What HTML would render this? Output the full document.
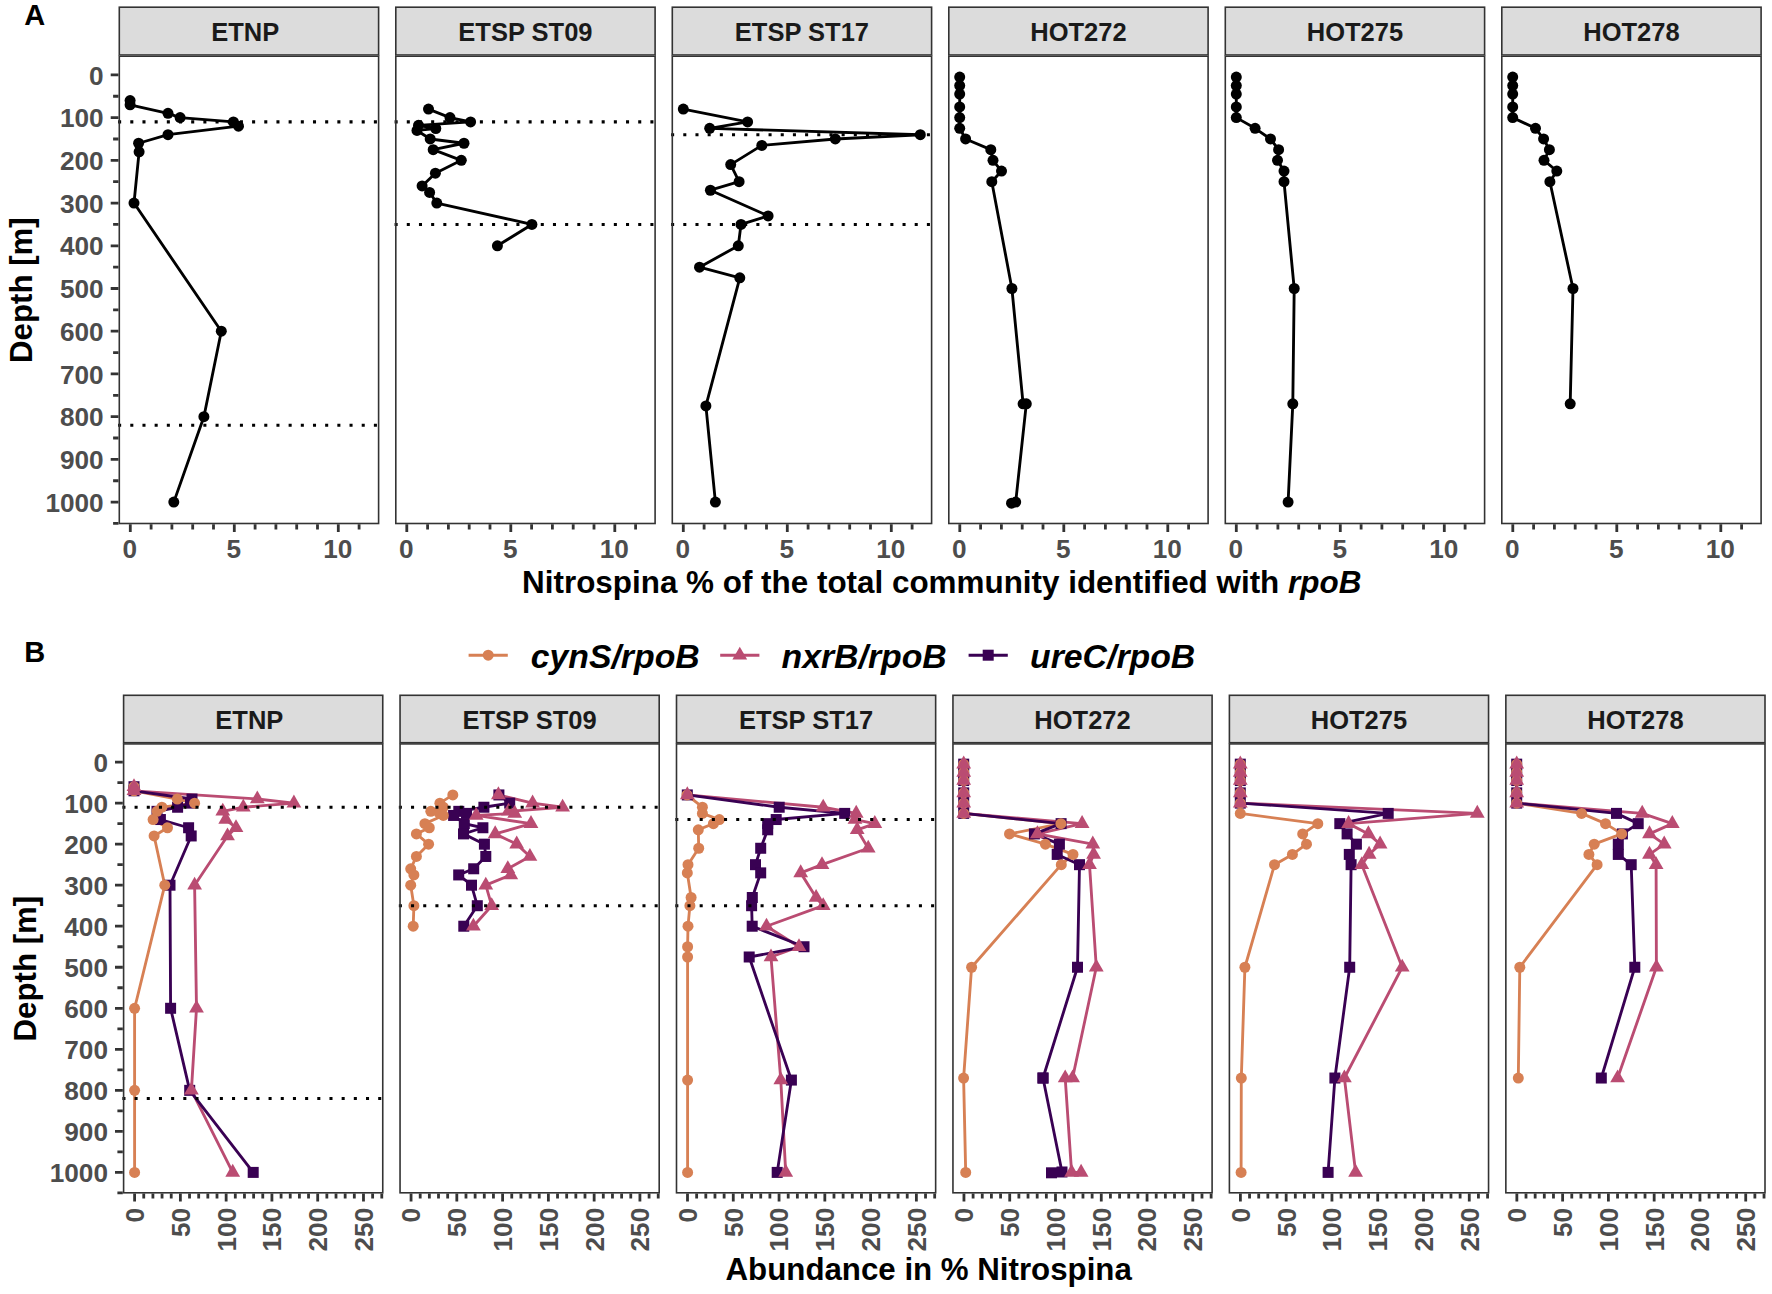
<!DOCTYPE html>
<html lang="en">
<head>
<meta charset="utf-8">
<title>Nitrospina depth profiles</title>
<style>
html,body{margin:0;padding:0;background:#ffffff;}
body{width:1772px;height:1294px;overflow:hidden;}
svg{display:block;}
</style>
</head>
<body>
<svg width="1772" height="1294" viewBox="0 0 1772 1294" font-family='"Liberation Sans", sans-serif' font-weight="bold">
<rect x="0" y="0" width="1772" height="1294" fill="#ffffff"/>
<rect x="119.3" y="7.2" width="259.3" height="47.8" fill="#DCDCDC" stroke="#333333" stroke-width="1.6"/>
<text x="245.15" y="40.8" font-size="25.5" text-anchor="middle" fill="#1A1A1A">ETNP</text>
<rect x="119.3" y="55.6" width="259.3" height="467.9" fill="#fff"/>
<line x1="118.1" y1="121.89" x2="378.6" y2="121.89" stroke="#000" stroke-width="3.05" stroke-dasharray="3.05 9.13"/>
<line x1="118.1" y1="425.2" x2="378.6" y2="425.2" stroke="#000" stroke-width="3.05" stroke-dasharray="3.05 9.13"/>
<polyline points="130.1,100.53 130.1,104.8 168,113.35 180.1,117.62 233.4,121.89 238.5,126.16 168,134.71 138.6,143.25 139.1,151.8 134,203.06 221.3,331.22 203.9,416.66 173.8,502.1" fill="none" stroke="#000" stroke-width="2.85" stroke-linejoin="round" stroke-linecap="butt"/>
<g><circle cx="130.1" cy="100.53" r="5.5" fill="#000"/><circle cx="130.1" cy="104.8" r="5.5" fill="#000"/><circle cx="168" cy="113.35" r="5.5" fill="#000"/><circle cx="180.1" cy="117.62" r="5.5" fill="#000"/><circle cx="233.4" cy="121.89" r="5.5" fill="#000"/><circle cx="238.5" cy="126.16" r="5.5" fill="#000"/><circle cx="168" cy="134.71" r="5.5" fill="#000"/><circle cx="138.6" cy="143.25" r="5.5" fill="#000"/><circle cx="139.1" cy="151.8" r="5.5" fill="#000"/><circle cx="134" cy="203.06" r="5.5" fill="#000"/><circle cx="221.3" cy="331.22" r="5.5" fill="#000"/><circle cx="203.9" cy="416.66" r="5.5" fill="#000"/><circle cx="173.8" cy="502.1" r="5.5" fill="#000"/></g>
<rect x="119.3" y="56.2" width="259.3" height="467.3" fill="none" stroke="#333333" stroke-width="1.6"/>
<text x="129.7" y="557.6" font-size="26.2" text-anchor="middle" fill="#4D4D4D">0</text>
<text x="233.7" y="557.6" font-size="26.2" text-anchor="middle" fill="#4D4D4D">5</text>
<text x="337.7" y="557.6" font-size="26.2" text-anchor="middle" fill="#4D4D4D">10</text>
<path d="M130.3 524.3V531.9M151.1 524.3V529.5M171.9 524.3V529.5M192.7 524.3V529.5M213.5 524.3V529.5M234.3 524.3V531.9M255.1 524.3V529.5M275.9 524.3V529.5M296.7 524.3V529.5M317.5 524.3V529.5M338.3 524.3V531.9M359.1 524.3V529.5" stroke="#333333" stroke-width="2.8" fill="none"/>
<rect x="395.8" y="7.2" width="259.3" height="47.8" fill="#DCDCDC" stroke="#333333" stroke-width="1.6"/>
<text x="525.45" y="40.8" font-size="25.5" text-anchor="middle" fill="#1A1A1A">ETSP ST09</text>
<rect x="395.8" y="55.6" width="259.3" height="467.9" fill="#fff"/>
<line x1="394.6" y1="121.89" x2="655.1" y2="121.89" stroke="#000" stroke-width="3.05" stroke-dasharray="3.05 9.13"/>
<line x1="394.6" y1="224.42" x2="655.1" y2="224.42" stroke="#000" stroke-width="3.05" stroke-dasharray="3.05 9.13"/>
<polyline points="428.5,109.08 450,117.62 470.6,121.89 418.5,125.31 435.8,128.51 417,130.44 430.2,138.98 464,143.25 433.2,149.66 461.3,160.34 435.4,173.16 422.1,185.97 429.6,192.38 436.8,203.06 531.9,224.42 497.4,245.78" fill="none" stroke="#000" stroke-width="2.85" stroke-linejoin="round" stroke-linecap="butt"/>
<g><circle cx="428.5" cy="109.08" r="5.5" fill="#000"/><circle cx="450" cy="117.62" r="5.5" fill="#000"/><circle cx="470.6" cy="121.89" r="5.5" fill="#000"/><circle cx="418.5" cy="125.31" r="5.5" fill="#000"/><circle cx="435.8" cy="128.51" r="5.5" fill="#000"/><circle cx="417" cy="130.44" r="5.5" fill="#000"/><circle cx="430.2" cy="138.98" r="5.5" fill="#000"/><circle cx="464" cy="143.25" r="5.5" fill="#000"/><circle cx="433.2" cy="149.66" r="5.5" fill="#000"/><circle cx="461.3" cy="160.34" r="5.5" fill="#000"/><circle cx="435.4" cy="173.16" r="5.5" fill="#000"/><circle cx="422.1" cy="185.97" r="5.5" fill="#000"/><circle cx="429.6" cy="192.38" r="5.5" fill="#000"/><circle cx="436.8" cy="203.06" r="5.5" fill="#000"/><circle cx="531.9" cy="224.42" r="5.5" fill="#000"/><circle cx="497.4" cy="245.78" r="5.5" fill="#000"/></g>
<rect x="395.8" y="56.2" width="259.3" height="467.3" fill="none" stroke="#333333" stroke-width="1.6"/>
<text x="406.2" y="557.6" font-size="26.2" text-anchor="middle" fill="#4D4D4D">0</text>
<text x="510.2" y="557.6" font-size="26.2" text-anchor="middle" fill="#4D4D4D">5</text>
<text x="614.2" y="557.6" font-size="26.2" text-anchor="middle" fill="#4D4D4D">10</text>
<path d="M406.8 524.3V531.9M427.6 524.3V529.5M448.4 524.3V529.5M469.2 524.3V529.5M490 524.3V529.5M510.8 524.3V531.9M531.6 524.3V529.5M552.4 524.3V529.5M573.2 524.3V529.5M594 524.3V529.5M614.8 524.3V531.9M635.6 524.3V529.5" stroke="#333333" stroke-width="2.8" fill="none"/>
<rect x="672.3" y="7.2" width="259.3" height="47.8" fill="#DCDCDC" stroke="#333333" stroke-width="1.6"/>
<text x="801.95" y="40.8" font-size="25.5" text-anchor="middle" fill="#1A1A1A">ETSP ST17</text>
<rect x="672.3" y="55.6" width="259.3" height="467.9" fill="#fff"/>
<line x1="671.1" y1="134.71" x2="931.6" y2="134.71" stroke="#000" stroke-width="3.05" stroke-dasharray="3.05 9.13"/>
<line x1="671.1" y1="224.42" x2="931.6" y2="224.42" stroke="#000" stroke-width="3.05" stroke-dasharray="3.05 9.13"/>
<polyline points="683.3,109.08 747.6,121.89 709.7,128.3 920.3,134.71 835.3,138.98 761.8,145.39 730.7,164.61 739.1,181.7 710.4,190.24 768.1,215.88 741,224.42 738.3,245.78 699.5,267.14 739.8,277.82 705.9,405.98 715.4,502.1" fill="none" stroke="#000" stroke-width="2.85" stroke-linejoin="round" stroke-linecap="butt"/>
<g><circle cx="683.3" cy="109.08" r="5.5" fill="#000"/><circle cx="747.6" cy="121.89" r="5.5" fill="#000"/><circle cx="709.7" cy="128.3" r="5.5" fill="#000"/><circle cx="920.3" cy="134.71" r="5.5" fill="#000"/><circle cx="835.3" cy="138.98" r="5.5" fill="#000"/><circle cx="761.8" cy="145.39" r="5.5" fill="#000"/><circle cx="730.7" cy="164.61" r="5.5" fill="#000"/><circle cx="739.1" cy="181.7" r="5.5" fill="#000"/><circle cx="710.4" cy="190.24" r="5.5" fill="#000"/><circle cx="768.1" cy="215.88" r="5.5" fill="#000"/><circle cx="741" cy="224.42" r="5.5" fill="#000"/><circle cx="738.3" cy="245.78" r="5.5" fill="#000"/><circle cx="699.5" cy="267.14" r="5.5" fill="#000"/><circle cx="739.8" cy="277.82" r="5.5" fill="#000"/><circle cx="705.9" cy="405.98" r="5.5" fill="#000"/><circle cx="715.4" cy="502.1" r="5.5" fill="#000"/></g>
<rect x="672.3" y="56.2" width="259.3" height="467.3" fill="none" stroke="#333333" stroke-width="1.6"/>
<text x="682.7" y="557.6" font-size="26.2" text-anchor="middle" fill="#4D4D4D">0</text>
<text x="786.7" y="557.6" font-size="26.2" text-anchor="middle" fill="#4D4D4D">5</text>
<text x="890.7" y="557.6" font-size="26.2" text-anchor="middle" fill="#4D4D4D">10</text>
<path d="M683.3 524.3V531.9M704.1 524.3V529.5M724.9 524.3V529.5M745.7 524.3V529.5M766.5 524.3V529.5M787.3 524.3V531.9M808.1 524.3V529.5M828.9 524.3V529.5M849.7 524.3V529.5M870.5 524.3V529.5M891.3 524.3V531.9M912.1 524.3V529.5" stroke="#333333" stroke-width="2.8" fill="none"/>
<rect x="948.8" y="7.2" width="259.3" height="47.8" fill="#DCDCDC" stroke="#333333" stroke-width="1.6"/>
<text x="1078.45" y="40.8" font-size="25.5" text-anchor="middle" fill="#1A1A1A">HOT272</text>
<rect x="948.8" y="55.6" width="259.3" height="467.9" fill="#fff"/>
<polyline points="959.7,77.04 959.7,85.58 959.7,94.12 959.7,106.94 959.7,117.62 959.7,128.3 965.6,138.98 990.8,149.66 993,160.34 1001.5,171.02 991.8,181.7 1011.9,288.5 1023.1,403.84 1026.3,403.84 1015.7,502.1 1011.5,503.17" fill="none" stroke="#000" stroke-width="2.85" stroke-linejoin="round" stroke-linecap="butt"/>
<g><circle cx="959.7" cy="77.04" r="5.5" fill="#000"/><circle cx="959.7" cy="85.58" r="5.5" fill="#000"/><circle cx="959.7" cy="94.12" r="5.5" fill="#000"/><circle cx="959.7" cy="106.94" r="5.5" fill="#000"/><circle cx="959.7" cy="117.62" r="5.5" fill="#000"/><circle cx="959.7" cy="128.3" r="5.5" fill="#000"/><circle cx="965.6" cy="138.98" r="5.5" fill="#000"/><circle cx="990.8" cy="149.66" r="5.5" fill="#000"/><circle cx="993" cy="160.34" r="5.5" fill="#000"/><circle cx="1001.5" cy="171.02" r="5.5" fill="#000"/><circle cx="991.8" cy="181.7" r="5.5" fill="#000"/><circle cx="1011.9" cy="288.5" r="5.5" fill="#000"/><circle cx="1023.1" cy="403.84" r="5.5" fill="#000"/><circle cx="1026.3" cy="403.84" r="5.5" fill="#000"/><circle cx="1015.7" cy="502.1" r="5.5" fill="#000"/><circle cx="1011.5" cy="503.17" r="5.5" fill="#000"/></g>
<rect x="948.8" y="56.2" width="259.3" height="467.3" fill="none" stroke="#333333" stroke-width="1.6"/>
<text x="959.2" y="557.6" font-size="26.2" text-anchor="middle" fill="#4D4D4D">0</text>
<text x="1063.2" y="557.6" font-size="26.2" text-anchor="middle" fill="#4D4D4D">5</text>
<text x="1167.2" y="557.6" font-size="26.2" text-anchor="middle" fill="#4D4D4D">10</text>
<path d="M959.8 524.3V531.9M980.6 524.3V529.5M1001.4 524.3V529.5M1022.2 524.3V529.5M1043 524.3V529.5M1063.8 524.3V531.9M1084.6 524.3V529.5M1105.4 524.3V529.5M1126.2 524.3V529.5M1147 524.3V529.5M1167.8 524.3V531.9M1188.6 524.3V529.5" stroke="#333333" stroke-width="2.8" fill="none"/>
<rect x="1225.3" y="7.2" width="259.3" height="47.8" fill="#DCDCDC" stroke="#333333" stroke-width="1.6"/>
<text x="1354.95" y="40.8" font-size="25.5" text-anchor="middle" fill="#1A1A1A">HOT275</text>
<rect x="1225.3" y="55.6" width="259.3" height="467.9" fill="#fff"/>
<polyline points="1236.3,77.04 1236.3,85.58 1236.3,94.12 1236.3,106.94 1236.3,117.62 1255.1,128.3 1270.5,138.98 1278.6,149.66 1277.5,160.34 1284,171.02 1284,181.7 1294.2,288.5 1292.8,403.84 1288.1,502.1" fill="none" stroke="#000" stroke-width="2.85" stroke-linejoin="round" stroke-linecap="butt"/>
<g><circle cx="1236.3" cy="77.04" r="5.5" fill="#000"/><circle cx="1236.3" cy="85.58" r="5.5" fill="#000"/><circle cx="1236.3" cy="94.12" r="5.5" fill="#000"/><circle cx="1236.3" cy="106.94" r="5.5" fill="#000"/><circle cx="1236.3" cy="117.62" r="5.5" fill="#000"/><circle cx="1255.1" cy="128.3" r="5.5" fill="#000"/><circle cx="1270.5" cy="138.98" r="5.5" fill="#000"/><circle cx="1278.6" cy="149.66" r="5.5" fill="#000"/><circle cx="1277.5" cy="160.34" r="5.5" fill="#000"/><circle cx="1284" cy="171.02" r="5.5" fill="#000"/><circle cx="1284" cy="181.7" r="5.5" fill="#000"/><circle cx="1294.2" cy="288.5" r="5.5" fill="#000"/><circle cx="1292.8" cy="403.84" r="5.5" fill="#000"/><circle cx="1288.1" cy="502.1" r="5.5" fill="#000"/></g>
<rect x="1225.3" y="56.2" width="259.3" height="467.3" fill="none" stroke="#333333" stroke-width="1.6"/>
<text x="1235.7" y="557.6" font-size="26.2" text-anchor="middle" fill="#4D4D4D">0</text>
<text x="1339.7" y="557.6" font-size="26.2" text-anchor="middle" fill="#4D4D4D">5</text>
<text x="1443.7" y="557.6" font-size="26.2" text-anchor="middle" fill="#4D4D4D">10</text>
<path d="M1236.3 524.3V531.9M1257.1 524.3V529.5M1277.9 524.3V529.5M1298.7 524.3V529.5M1319.5 524.3V529.5M1340.3 524.3V531.9M1361.1 524.3V529.5M1381.9 524.3V529.5M1402.7 524.3V529.5M1423.5 524.3V529.5M1444.3 524.3V531.9M1465.1 524.3V529.5" stroke="#333333" stroke-width="2.8" fill="none"/>
<rect x="1501.8" y="7.2" width="259.3" height="47.8" fill="#DCDCDC" stroke="#333333" stroke-width="1.6"/>
<text x="1631.45" y="40.8" font-size="25.5" text-anchor="middle" fill="#1A1A1A">HOT278</text>
<rect x="1501.8" y="55.6" width="259.3" height="467.9" fill="#fff"/>
<polyline points="1512.7,77.04 1512.7,85.58 1512.7,94.12 1512.7,106.94 1512.7,117.62 1535.5,128.3 1543.6,138.98 1549.4,149.66 1544,160.34 1556.8,171.02 1549.9,181.7 1573,288.5 1570.2,403.84" fill="none" stroke="#000" stroke-width="2.85" stroke-linejoin="round" stroke-linecap="butt"/>
<g><circle cx="1512.7" cy="77.04" r="5.5" fill="#000"/><circle cx="1512.7" cy="85.58" r="5.5" fill="#000"/><circle cx="1512.7" cy="94.12" r="5.5" fill="#000"/><circle cx="1512.7" cy="106.94" r="5.5" fill="#000"/><circle cx="1512.7" cy="117.62" r="5.5" fill="#000"/><circle cx="1535.5" cy="128.3" r="5.5" fill="#000"/><circle cx="1543.6" cy="138.98" r="5.5" fill="#000"/><circle cx="1549.4" cy="149.66" r="5.5" fill="#000"/><circle cx="1544" cy="160.34" r="5.5" fill="#000"/><circle cx="1556.8" cy="171.02" r="5.5" fill="#000"/><circle cx="1549.9" cy="181.7" r="5.5" fill="#000"/><circle cx="1573" cy="288.5" r="5.5" fill="#000"/><circle cx="1570.2" cy="403.84" r="5.5" fill="#000"/></g>
<rect x="1501.8" y="56.2" width="259.3" height="467.3" fill="none" stroke="#333333" stroke-width="1.6"/>
<text x="1512.2" y="557.6" font-size="26.2" text-anchor="middle" fill="#4D4D4D">0</text>
<text x="1616.2" y="557.6" font-size="26.2" text-anchor="middle" fill="#4D4D4D">5</text>
<text x="1720.2" y="557.6" font-size="26.2" text-anchor="middle" fill="#4D4D4D">10</text>
<path d="M1512.8 524.3V531.9M1533.6 524.3V529.5M1554.4 524.3V529.5M1575.2 524.3V529.5M1596 524.3V529.5M1616.8 524.3V531.9M1637.6 524.3V529.5M1658.4 524.3V529.5M1679.2 524.3V529.5M1700 524.3V529.5M1720.8 524.3V531.9M1741.6 524.3V529.5" stroke="#333333" stroke-width="2.8" fill="none"/>
<text x="103.7" y="84.6" font-size="26.2" text-anchor="end" fill="#4D4D4D">0</text>
<text x="103.7" y="127.32" font-size="26.2" text-anchor="end" fill="#4D4D4D">100</text>
<text x="103.7" y="170.04" font-size="26.2" text-anchor="end" fill="#4D4D4D">200</text>
<text x="103.7" y="212.76" font-size="26.2" text-anchor="end" fill="#4D4D4D">300</text>
<text x="103.7" y="255.48" font-size="26.2" text-anchor="end" fill="#4D4D4D">400</text>
<text x="103.7" y="298.2" font-size="26.2" text-anchor="end" fill="#4D4D4D">500</text>
<text x="103.7" y="340.92" font-size="26.2" text-anchor="end" fill="#4D4D4D">600</text>
<text x="103.7" y="383.64" font-size="26.2" text-anchor="end" fill="#4D4D4D">700</text>
<text x="103.7" y="426.36" font-size="26.2" text-anchor="end" fill="#4D4D4D">800</text>
<text x="103.7" y="469.08" font-size="26.2" text-anchor="end" fill="#4D4D4D">900</text>
<text x="103.7" y="511.8" font-size="26.2" text-anchor="end" fill="#4D4D4D">1000</text>
<path d="M118.5 74.9H110.7M118.5 117.62H110.7M118.5 160.34H110.7M118.5 203.06H110.7M118.5 245.78H110.7M118.5 288.5H110.7M118.5 331.22H110.7M118.5 373.94H110.7M118.5 416.66H110.7M118.5 459.38H110.7M118.5 502.1H110.7M118.5 96.26H113.1M118.5 138.98H113.1M118.5 181.7H113.1M118.5 224.42H113.1M118.5 267.14H113.1M118.5 309.86H113.1M118.5 352.58H113.1M118.5 395.3H113.1M118.5 438.02H113.1M118.5 480.74H113.1M118.5 523.46H113.1" stroke="#333333" stroke-width="2.8" fill="none"/>
<text transform="translate(31.9 290.15) rotate(-90)" font-size="31.25" text-anchor="middle" fill="#000">Depth [m]</text>
<text x="941.7" y="593.2" font-size="31.42" text-anchor="middle" fill="#000">Nitrospina % of the total community identified with <tspan font-style="italic">rpoB</tspan></text>
<text x="24.3" y="24.8" font-size="29" fill="#000">A</text>
<line x1="468.6" y1="655.2" x2="507.8" y2="655.2" stroke="#D78054" stroke-width="2.85"/>
<circle cx="488.2" cy="655.2" r="5.5" fill="#D78054"/>
<line x1="720.2" y1="655.2" x2="759.4" y2="655.2" stroke="#BA4C72" stroke-width="2.85"/>
<polygon points="739.8,646.65 732.4,659.48 747.2,659.48" fill="#BA4C72"/>
<line x1="968.6" y1="655.2" x2="1007.8" y2="655.2" stroke="#390153" stroke-width="2.85"/>
<rect x="982.7" y="649.7" width="11" height="11" fill="#390153"/>
<text x="530.7" y="667.6" font-size="33.8" font-style="italic" fill="#000">cynS/rpoB</text>
<text x="781.5" y="667.6" font-size="33.8" font-style="italic" fill="#000">nxrB/rpoB</text>
<text x="1030" y="667.6" font-size="33.8" font-style="italic" fill="#000">ureC/rpoB</text>
<rect x="123.6" y="695.3" width="259.15" height="47.4" fill="#DCDCDC" stroke="#333333" stroke-width="1.6"/>
<text x="249.38" y="728.7" font-size="25.5" text-anchor="middle" fill="#1A1A1A">ETNP</text>
<rect x="123.6" y="743.3" width="259.15" height="449.5" fill="#fff"/>
<polyline points="134,786.72 134,790.82 177.3,799.03 194.6,803.13 161.9,807.23 157,811.34 153.1,819.54 167.5,827.75 154.1,835.95 164.8,885.19 134.6,1008.28 134.6,1090.34 134.6,1172.4" fill="none" stroke="#D78054" stroke-width="2.85" stroke-linejoin="round" stroke-linecap="butt"/>
<polyline points="134,786.72 134,790.82 257.3,799.03 293.9,803.13 243.3,807.23 222.8,811.34 225.7,819.54 236,827.75 227.5,835.95 194.6,885.19 196.5,1008.28 191.4,1090.34 232.7,1172.4" fill="none" stroke="#BA4C72" stroke-width="2.85" stroke-linejoin="round" stroke-linecap="butt"/>
<polyline points="134,786.72 134,790.82 192,799.03 190.5,803.13 177.6,807.23 157,811.34 160.4,819.54 188.6,827.75 191.2,835.95 170,885.19 170.6,1008.28 189.7,1090.34 253.2,1172.4" fill="none" stroke="#390153" stroke-width="2.85" stroke-linejoin="round" stroke-linecap="butt"/>
<g><rect x="128.5" y="781.22" width="11" height="11" fill="#390153"/><rect x="128.5" y="785.32" width="11" height="11" fill="#390153"/><rect x="186.5" y="793.53" width="11" height="11" fill="#390153"/><rect x="185" y="797.63" width="11" height="11" fill="#390153"/><rect x="172.1" y="801.73" width="11" height="11" fill="#390153"/><rect x="151.5" y="805.84" width="11" height="11" fill="#390153"/><rect x="154.9" y="814.04" width="11" height="11" fill="#390153"/><rect x="183.1" y="822.25" width="11" height="11" fill="#390153"/><rect x="185.7" y="830.45" width="11" height="11" fill="#390153"/><rect x="164.5" y="879.69" width="11" height="11" fill="#390153"/><rect x="165.1" y="1002.78" width="11" height="11" fill="#390153"/><rect x="184.2" y="1084.84" width="11" height="11" fill="#390153"/><rect x="247.7" y="1166.9" width="11" height="11" fill="#390153"/></g>
<g><circle cx="134" cy="786.72" r="5.5" fill="#D78054"/><circle cx="134" cy="790.82" r="5.5" fill="#D78054"/><circle cx="177.3" cy="799.03" r="5.5" fill="#D78054"/><circle cx="194.6" cy="803.13" r="5.5" fill="#D78054"/><circle cx="161.9" cy="807.23" r="5.5" fill="#D78054"/><circle cx="157" cy="811.34" r="5.5" fill="#D78054"/><circle cx="153.1" cy="819.54" r="5.5" fill="#D78054"/><circle cx="167.5" cy="827.75" r="5.5" fill="#D78054"/><circle cx="154.1" cy="835.95" r="5.5" fill="#D78054"/><circle cx="164.8" cy="885.19" r="5.5" fill="#D78054"/><circle cx="134.6" cy="1008.28" r="5.5" fill="#D78054"/><circle cx="134.6" cy="1090.34" r="5.5" fill="#D78054"/><circle cx="134.6" cy="1172.4" r="5.5" fill="#D78054"/></g>
<g><polygon points="134,778.17 126.6,791 141.4,791" fill="#BA4C72"/><polygon points="134,782.27 126.6,795.1 141.4,795.1" fill="#BA4C72"/><polygon points="257.3,790.48 249.9,803.31 264.7,803.31" fill="#BA4C72"/><polygon points="293.9,794.58 286.5,807.41 301.3,807.41" fill="#BA4C72"/><polygon points="243.3,798.68 235.9,811.51 250.7,811.51" fill="#BA4C72"/><polygon points="222.8,802.79 215.4,815.62 230.2,815.62" fill="#BA4C72"/><polygon points="225.7,810.99 218.3,823.82 233.1,823.82" fill="#BA4C72"/><polygon points="236,819.2 228.6,832.03 243.4,832.03" fill="#BA4C72"/><polygon points="227.5,827.4 220.1,840.23 234.9,840.23" fill="#BA4C72"/><polygon points="194.6,876.64 187.2,889.47 202,889.47" fill="#BA4C72"/><polygon points="196.5,999.73 189.1,1012.56 203.9,1012.56" fill="#BA4C72"/><polygon points="191.4,1081.79 184,1094.62 198.8,1094.62" fill="#BA4C72"/><polygon points="232.7,1163.85 225.3,1176.68 240.1,1176.68" fill="#BA4C72"/></g>
<line x1="122.4" y1="807.23" x2="382.75" y2="807.23" stroke="#000" stroke-width="3.05" stroke-dasharray="3.05 9.13"/>
<line x1="122.4" y1="1098.55" x2="382.75" y2="1098.55" stroke="#000" stroke-width="3.05" stroke-dasharray="3.05 9.13"/>
<rect x="123.6" y="743.9" width="259.15" height="448.9" fill="none" stroke="#333333" stroke-width="1.6"/>
<text transform="translate(144 1207.8) rotate(-90)" font-size="26.2" text-anchor="end" fill="#4D4D4D">0</text>
<text transform="translate(189.78 1207.8) rotate(-90)" font-size="26.2" text-anchor="end" fill="#4D4D4D">50</text>
<text transform="translate(235.55 1207.8) rotate(-90)" font-size="26.2" text-anchor="end" fill="#4D4D4D">100</text>
<text transform="translate(281.32 1207.8) rotate(-90)" font-size="26.2" text-anchor="end" fill="#4D4D4D">150</text>
<text transform="translate(327.1 1207.8) rotate(-90)" font-size="26.2" text-anchor="end" fill="#4D4D4D">200</text>
<text transform="translate(372.88 1207.8) rotate(-90)" font-size="26.2" text-anchor="end" fill="#4D4D4D">250</text>
<path d="M134.6 1193.6V1201.4M143.75 1193.6V1198.4M152.91 1193.6V1198.4M162.06 1193.6V1198.4M171.22 1193.6V1198.4M180.38 1193.6V1201.4M189.53 1193.6V1198.4M198.69 1193.6V1198.4M207.84 1193.6V1198.4M217 1193.6V1198.4M226.15 1193.6V1201.4M235.31 1193.6V1198.4M244.46 1193.6V1198.4M253.62 1193.6V1198.4M262.77 1193.6V1198.4M271.92 1193.6V1201.4M281.08 1193.6V1198.4M290.24 1193.6V1198.4M299.39 1193.6V1198.4M308.54 1193.6V1198.4M317.7 1193.6V1201.4M326.86 1193.6V1198.4M336.01 1193.6V1198.4M345.16 1193.6V1198.4M354.32 1193.6V1198.4M363.48 1193.6V1201.4M372.63 1193.6V1198.4M381.78 1193.6V1198.4" stroke="#333333" stroke-width="2.8" fill="none"/>
<rect x="400.05" y="695.3" width="259.15" height="47.4" fill="#DCDCDC" stroke="#333333" stroke-width="1.6"/>
<text x="529.62" y="728.7" font-size="25.5" text-anchor="middle" fill="#1A1A1A">ETSP ST09</text>
<rect x="400.05" y="743.3" width="259.15" height="449.5" fill="#fff"/>
<polyline points="452.8,794.92 439.9,803.13 443.3,807.23 430.8,811.34 439.6,813.39 443.3,815.44 424.9,823.64 429.3,827.75 416.4,833.9 428.6,844.16 416.4,856.47 410.7,868.78 413.9,874.93 410.7,885.19 413.9,905.71 413.2,926.22" fill="none" stroke="#D78054" stroke-width="2.85" stroke-linejoin="round" stroke-linecap="butt"/>
<polyline points="498.4,794.92 532.6,803.13 562.6,807.23 508.5,811.34 514.7,813.39 476.2,815.44 531,823.64 495.2,833.9 516.7,844.16 529.9,856.47 507.8,868.78 510.8,874.93 485.8,885.19 491.7,905.71 473.4,926.22" fill="none" stroke="#BA4C72" stroke-width="2.85" stroke-linejoin="round" stroke-linecap="butt"/>
<polyline points="498.9,794.92 509.7,803.13 483.9,807.23 458.8,811.34 466.5,813.39 453.6,815.44 464.3,823.64 482.9,827.75 463.5,833.9 484.4,844.16 485.8,856.47 473.7,868.78 458.7,874.93 471.5,885.19 477.3,905.71 463.8,926.22" fill="none" stroke="#390153" stroke-width="2.85" stroke-linejoin="round" stroke-linecap="butt"/>
<g><rect x="493.4" y="789.42" width="11" height="11" fill="#390153"/><rect x="504.2" y="797.63" width="11" height="11" fill="#390153"/><rect x="478.4" y="801.73" width="11" height="11" fill="#390153"/><rect x="453.3" y="805.84" width="11" height="11" fill="#390153"/><rect x="461" y="807.89" width="11" height="11" fill="#390153"/><rect x="448.1" y="809.94" width="11" height="11" fill="#390153"/><rect x="458.8" y="818.14" width="11" height="11" fill="#390153"/><rect x="477.4" y="822.25" width="11" height="11" fill="#390153"/><rect x="458" y="828.4" width="11" height="11" fill="#390153"/><rect x="478.9" y="838.66" width="11" height="11" fill="#390153"/><rect x="480.3" y="850.97" width="11" height="11" fill="#390153"/><rect x="468.2" y="863.28" width="11" height="11" fill="#390153"/><rect x="453.2" y="869.43" width="11" height="11" fill="#390153"/><rect x="466" y="879.69" width="11" height="11" fill="#390153"/><rect x="471.8" y="900.21" width="11" height="11" fill="#390153"/><rect x="458.3" y="920.72" width="11" height="11" fill="#390153"/></g>
<g><circle cx="452.8" cy="794.92" r="5.5" fill="#D78054"/><circle cx="439.9" cy="803.13" r="5.5" fill="#D78054"/><circle cx="443.3" cy="807.23" r="5.5" fill="#D78054"/><circle cx="430.8" cy="811.34" r="5.5" fill="#D78054"/><circle cx="439.6" cy="813.39" r="5.5" fill="#D78054"/><circle cx="443.3" cy="815.44" r="5.5" fill="#D78054"/><circle cx="424.9" cy="823.64" r="5.5" fill="#D78054"/><circle cx="429.3" cy="827.75" r="5.5" fill="#D78054"/><circle cx="416.4" cy="833.9" r="5.5" fill="#D78054"/><circle cx="428.6" cy="844.16" r="5.5" fill="#D78054"/><circle cx="416.4" cy="856.47" r="5.5" fill="#D78054"/><circle cx="410.7" cy="868.78" r="5.5" fill="#D78054"/><circle cx="413.9" cy="874.93" r="5.5" fill="#D78054"/><circle cx="410.7" cy="885.19" r="5.5" fill="#D78054"/><circle cx="413.9" cy="905.71" r="5.5" fill="#D78054"/><circle cx="413.2" cy="926.22" r="5.5" fill="#D78054"/></g>
<g><polygon points="498.4,786.37 491,799.2 505.8,799.2" fill="#BA4C72"/><polygon points="532.6,794.58 525.2,807.41 540,807.41" fill="#BA4C72"/><polygon points="562.6,798.68 555.2,811.51 570,811.51" fill="#BA4C72"/><polygon points="508.5,802.79 501.1,815.62 515.9,815.62" fill="#BA4C72"/><polygon points="514.7,804.84 507.3,817.67 522.1,817.67" fill="#BA4C72"/><polygon points="476.2,806.89 468.8,819.72 483.6,819.72" fill="#BA4C72"/><polygon points="531,815.1 523.6,827.92 538.4,827.92" fill="#BA4C72"/><polygon points="495.2,825.35 487.8,838.18 502.6,838.18" fill="#BA4C72"/><polygon points="516.7,835.61 509.3,848.44 524.1,848.44" fill="#BA4C72"/><polygon points="529.9,847.92 522.5,860.75 537.3,860.75" fill="#BA4C72"/><polygon points="507.8,860.23 500.4,873.06 515.2,873.06" fill="#BA4C72"/><polygon points="510.8,866.38 503.4,879.21 518.2,879.21" fill="#BA4C72"/><polygon points="485.8,876.64 478.4,889.47 493.2,889.47" fill="#BA4C72"/><polygon points="491.7,897.16 484.3,909.99 499.1,909.99" fill="#BA4C72"/><polygon points="473.4,917.67 466,930.5 480.8,930.5" fill="#BA4C72"/></g>
<line x1="398.85" y1="807.23" x2="659.2" y2="807.23" stroke="#000" stroke-width="3.05" stroke-dasharray="3.05 9.13"/>
<line x1="398.85" y1="905.71" x2="659.2" y2="905.71" stroke="#000" stroke-width="3.05" stroke-dasharray="3.05 9.13"/>
<rect x="400.05" y="743.9" width="259.15" height="448.9" fill="none" stroke="#333333" stroke-width="1.6"/>
<text transform="translate(420.45 1207.8) rotate(-90)" font-size="26.2" text-anchor="end" fill="#4D4D4D">0</text>
<text transform="translate(466.22 1207.8) rotate(-90)" font-size="26.2" text-anchor="end" fill="#4D4D4D">50</text>
<text transform="translate(512 1207.8) rotate(-90)" font-size="26.2" text-anchor="end" fill="#4D4D4D">100</text>
<text transform="translate(557.77 1207.8) rotate(-90)" font-size="26.2" text-anchor="end" fill="#4D4D4D">150</text>
<text transform="translate(603.55 1207.8) rotate(-90)" font-size="26.2" text-anchor="end" fill="#4D4D4D">200</text>
<text transform="translate(649.32 1207.8) rotate(-90)" font-size="26.2" text-anchor="end" fill="#4D4D4D">250</text>
<path d="M411.05 1193.6V1201.4M420.2 1193.6V1198.4M429.36 1193.6V1198.4M438.51 1193.6V1198.4M447.67 1193.6V1198.4M456.82 1193.6V1201.4M465.98 1193.6V1198.4M475.13 1193.6V1198.4M484.29 1193.6V1198.4M493.44 1193.6V1198.4M502.6 1193.6V1201.4M511.75 1193.6V1198.4M520.91 1193.6V1198.4M530.06 1193.6V1198.4M539.22 1193.6V1198.4M548.38 1193.6V1201.4M557.53 1193.6V1198.4M566.68 1193.6V1198.4M575.84 1193.6V1198.4M584.99 1193.6V1198.4M594.15 1193.6V1201.4M603.3 1193.6V1198.4M612.46 1193.6V1198.4M621.62 1193.6V1198.4M630.77 1193.6V1198.4M639.92 1193.6V1201.4M649.08 1193.6V1198.4M658.23 1193.6V1198.4" stroke="#333333" stroke-width="2.8" fill="none"/>
<rect x="676.5" y="695.3" width="259.15" height="47.4" fill="#DCDCDC" stroke="#333333" stroke-width="1.6"/>
<text x="806.08" y="728.7" font-size="25.5" text-anchor="middle" fill="#1A1A1A">ETSP ST17</text>
<rect x="676.5" y="743.3" width="259.15" height="449.5" fill="#fff"/>
<polyline points="687,794.92 702.4,807.23 702.4,813.39 719.3,819.54 713.4,823.64 698.3,829.8 698.7,848.26 688,864.68 687.3,872.88 691.1,897.5 689.9,905.71 688,926.22 687.6,946.74 687.6,956.99 687.6,1080.08 687.6,1172.4" fill="none" stroke="#D78054" stroke-width="2.85" stroke-linejoin="round" stroke-linecap="butt"/>
<polyline points="687.3,794.92 823.2,807.23 856.2,813.39 855,819.54 874.8,823.64 857.2,829.8 868.2,848.26 822,864.68 800.7,872.88 816.1,897.5 823.2,905.71 766.5,926.22 799,946.74 771,956.99 780.8,1080.08 785.7,1172.4" fill="none" stroke="#BA4C72" stroke-width="2.85" stroke-linejoin="round" stroke-linecap="butt"/>
<polyline points="687.3,794.92 779.2,807.23 844.7,813.39 776.2,819.54 767.7,823.64 767.7,829.8 760.7,848.26 755.5,864.68 760.7,872.88 752.3,897.5 751.6,905.71 752.2,926.22 804,946.74 749.2,956.99 791.4,1080.08 777.2,1172.4" fill="none" stroke="#390153" stroke-width="2.85" stroke-linejoin="round" stroke-linecap="butt"/>
<g><rect x="681.8" y="789.42" width="11" height="11" fill="#390153"/><rect x="773.7" y="801.73" width="11" height="11" fill="#390153"/><rect x="839.2" y="807.89" width="11" height="11" fill="#390153"/><rect x="770.7" y="814.04" width="11" height="11" fill="#390153"/><rect x="762.2" y="818.14" width="11" height="11" fill="#390153"/><rect x="762.2" y="824.3" width="11" height="11" fill="#390153"/><rect x="755.2" y="842.76" width="11" height="11" fill="#390153"/><rect x="750" y="859.18" width="11" height="11" fill="#390153"/><rect x="755.2" y="867.38" width="11" height="11" fill="#390153"/><rect x="746.8" y="892" width="11" height="11" fill="#390153"/><rect x="746.1" y="900.21" width="11" height="11" fill="#390153"/><rect x="746.7" y="920.72" width="11" height="11" fill="#390153"/><rect x="798.5" y="941.24" width="11" height="11" fill="#390153"/><rect x="743.7" y="951.49" width="11" height="11" fill="#390153"/><rect x="785.9" y="1074.58" width="11" height="11" fill="#390153"/><rect x="771.7" y="1166.9" width="11" height="11" fill="#390153"/></g>
<g><circle cx="687" cy="794.92" r="5.5" fill="#D78054"/><circle cx="702.4" cy="807.23" r="5.5" fill="#D78054"/><circle cx="702.4" cy="813.39" r="5.5" fill="#D78054"/><circle cx="719.3" cy="819.54" r="5.5" fill="#D78054"/><circle cx="713.4" cy="823.64" r="5.5" fill="#D78054"/><circle cx="698.3" cy="829.8" r="5.5" fill="#D78054"/><circle cx="698.7" cy="848.26" r="5.5" fill="#D78054"/><circle cx="688" cy="864.68" r="5.5" fill="#D78054"/><circle cx="687.3" cy="872.88" r="5.5" fill="#D78054"/><circle cx="691.1" cy="897.5" r="5.5" fill="#D78054"/><circle cx="689.9" cy="905.71" r="5.5" fill="#D78054"/><circle cx="688" cy="926.22" r="5.5" fill="#D78054"/><circle cx="687.6" cy="946.74" r="5.5" fill="#D78054"/><circle cx="687.6" cy="956.99" r="5.5" fill="#D78054"/><circle cx="687.6" cy="1080.08" r="5.5" fill="#D78054"/><circle cx="687.6" cy="1172.4" r="5.5" fill="#D78054"/></g>
<g><polygon points="687.3,786.37 679.9,799.2 694.7,799.2" fill="#BA4C72"/><polygon points="823.2,798.68 815.8,811.51 830.6,811.51" fill="#BA4C72"/><polygon points="856.2,804.84 848.8,817.67 863.6,817.67" fill="#BA4C72"/><polygon points="855,810.99 847.6,823.82 862.4,823.82" fill="#BA4C72"/><polygon points="874.8,815.1 867.4,827.92 882.2,827.92" fill="#BA4C72"/><polygon points="857.2,821.25 849.8,834.08 864.6,834.08" fill="#BA4C72"/><polygon points="868.2,839.71 860.8,852.54 875.6,852.54" fill="#BA4C72"/><polygon points="822,856.13 814.6,868.96 829.4,868.96" fill="#BA4C72"/><polygon points="800.7,864.33 793.3,877.16 808.1,877.16" fill="#BA4C72"/><polygon points="816.1,888.95 808.7,901.78 823.5,901.78" fill="#BA4C72"/><polygon points="823.2,897.16 815.8,909.99 830.6,909.99" fill="#BA4C72"/><polygon points="766.5,917.67 759.1,930.5 773.9,930.5" fill="#BA4C72"/><polygon points="799,938.19 791.6,951.01 806.4,951.01" fill="#BA4C72"/><polygon points="771,948.44 763.6,961.27 778.4,961.27" fill="#BA4C72"/><polygon points="780.8,1071.53 773.4,1084.36 788.2,1084.36" fill="#BA4C72"/><polygon points="785.7,1163.85 778.3,1176.68 793.1,1176.68" fill="#BA4C72"/></g>
<line x1="675.3" y1="819.54" x2="935.65" y2="819.54" stroke="#000" stroke-width="3.05" stroke-dasharray="3.05 9.13"/>
<line x1="675.3" y1="905.71" x2="935.65" y2="905.71" stroke="#000" stroke-width="3.05" stroke-dasharray="3.05 9.13"/>
<rect x="676.5" y="743.9" width="259.15" height="448.9" fill="none" stroke="#333333" stroke-width="1.6"/>
<text transform="translate(696.9 1207.8) rotate(-90)" font-size="26.2" text-anchor="end" fill="#4D4D4D">0</text>
<text transform="translate(742.67 1207.8) rotate(-90)" font-size="26.2" text-anchor="end" fill="#4D4D4D">50</text>
<text transform="translate(788.45 1207.8) rotate(-90)" font-size="26.2" text-anchor="end" fill="#4D4D4D">100</text>
<text transform="translate(834.23 1207.8) rotate(-90)" font-size="26.2" text-anchor="end" fill="#4D4D4D">150</text>
<text transform="translate(880 1207.8) rotate(-90)" font-size="26.2" text-anchor="end" fill="#4D4D4D">200</text>
<text transform="translate(925.77 1207.8) rotate(-90)" font-size="26.2" text-anchor="end" fill="#4D4D4D">250</text>
<path d="M687.5 1193.6V1201.4M696.65 1193.6V1198.4M705.81 1193.6V1198.4M714.97 1193.6V1198.4M724.12 1193.6V1198.4M733.27 1193.6V1201.4M742.43 1193.6V1198.4M751.59 1193.6V1198.4M760.74 1193.6V1198.4M769.89 1193.6V1198.4M779.05 1193.6V1201.4M788.21 1193.6V1198.4M797.36 1193.6V1198.4M806.51 1193.6V1198.4M815.67 1193.6V1198.4M824.83 1193.6V1201.4M833.98 1193.6V1198.4M843.13 1193.6V1198.4M852.29 1193.6V1198.4M861.44 1193.6V1198.4M870.6 1193.6V1201.4M879.75 1193.6V1198.4M888.91 1193.6V1198.4M898.07 1193.6V1198.4M907.22 1193.6V1198.4M916.38 1193.6V1201.4M925.53 1193.6V1198.4M934.68 1193.6V1198.4" stroke="#333333" stroke-width="2.8" fill="none"/>
<rect x="952.95" y="695.3" width="259.15" height="47.4" fill="#DCDCDC" stroke="#333333" stroke-width="1.6"/>
<text x="1082.52" y="728.7" font-size="25.5" text-anchor="middle" fill="#1A1A1A">HOT272</text>
<rect x="952.95" y="743.3" width="259.15" height="449.5" fill="#fff"/>
<polyline points="963.7,764.15 963.7,772.36 963.7,780.56 963.7,792.87 963.7,803.13 963.7,813.39 1060.9,823.64 1009.5,833.9 1045.4,844.16 1073,854.42 1061.3,864.68 971.6,967.25 963.6,1078.03 965.7,1172.4" fill="none" stroke="#D78054" stroke-width="2.85" stroke-linejoin="round" stroke-linecap="butt"/>
<polyline points="963.7,764.15 963.7,772.36 963.7,780.56 963.7,792.87 963.7,803.13 963.7,813.39 1082.1,823.64 1037.4,833.9 1092.8,844.16 1093.6,854.42 1089.5,864.68 1096.3,967.25 1072.6,1078.03 1065.2,1078.03 1071.6,1172.4 1081.1,1172.4" fill="none" stroke="#BA4C72" stroke-width="2.85" stroke-linejoin="round" stroke-linecap="butt"/>
<polyline points="963.7,764.15 963.7,772.36 963.7,780.56 963.7,792.87 963.7,803.13 963.7,813.39 1061.1,823.64 1034.4,833.9 1059.4,844.16 1057.2,854.42 1079.5,864.68 1077.5,967.25 1043,1078.03 1043,1078.03 1062,1171.99 1051.5,1172.81" fill="none" stroke="#390153" stroke-width="2.85" stroke-linejoin="round" stroke-linecap="butt"/>
<g><rect x="958.2" y="758.65" width="11" height="11" fill="#390153"/><rect x="958.2" y="766.86" width="11" height="11" fill="#390153"/><rect x="958.2" y="775.06" width="11" height="11" fill="#390153"/><rect x="958.2" y="787.37" width="11" height="11" fill="#390153"/><rect x="958.2" y="797.63" width="11" height="11" fill="#390153"/><rect x="958.2" y="807.89" width="11" height="11" fill="#390153"/><rect x="1055.6" y="818.14" width="11" height="11" fill="#390153"/><rect x="1028.9" y="828.4" width="11" height="11" fill="#390153"/><rect x="1053.9" y="838.66" width="11" height="11" fill="#390153"/><rect x="1051.7" y="848.92" width="11" height="11" fill="#390153"/><rect x="1074" y="859.18" width="11" height="11" fill="#390153"/><rect x="1072" y="961.75" width="11" height="11" fill="#390153"/><rect x="1037.5" y="1072.53" width="11" height="11" fill="#390153"/><rect x="1037.5" y="1072.53" width="11" height="11" fill="#390153"/><rect x="1056.5" y="1166.49" width="11" height="11" fill="#390153"/><rect x="1046" y="1167.31" width="11" height="11" fill="#390153"/></g>
<g><circle cx="963.7" cy="764.15" r="5.5" fill="#D78054"/><circle cx="963.7" cy="772.36" r="5.5" fill="#D78054"/><circle cx="963.7" cy="780.56" r="5.5" fill="#D78054"/><circle cx="963.7" cy="792.87" r="5.5" fill="#D78054"/><circle cx="963.7" cy="803.13" r="5.5" fill="#D78054"/><circle cx="963.7" cy="813.39" r="5.5" fill="#D78054"/><circle cx="1060.9" cy="823.64" r="5.5" fill="#D78054"/><circle cx="1009.5" cy="833.9" r="5.5" fill="#D78054"/><circle cx="1045.4" cy="844.16" r="5.5" fill="#D78054"/><circle cx="1073" cy="854.42" r="5.5" fill="#D78054"/><circle cx="1061.3" cy="864.68" r="5.5" fill="#D78054"/><circle cx="971.6" cy="967.25" r="5.5" fill="#D78054"/><circle cx="963.6" cy="1078.03" r="5.5" fill="#D78054"/><circle cx="965.7" cy="1172.4" r="5.5" fill="#D78054"/></g>
<g><polygon points="963.7,755.6 956.3,768.43 971.1,768.43" fill="#BA4C72"/><polygon points="963.7,763.81 956.3,776.64 971.1,776.64" fill="#BA4C72"/><polygon points="963.7,772.01 956.3,784.84 971.1,784.84" fill="#BA4C72"/><polygon points="963.7,784.32 956.3,797.15 971.1,797.15" fill="#BA4C72"/><polygon points="963.7,794.58 956.3,807.41 971.1,807.41" fill="#BA4C72"/><polygon points="963.7,804.84 956.3,817.67 971.1,817.67" fill="#BA4C72"/><polygon points="1082.1,815.1 1074.7,827.92 1089.5,827.92" fill="#BA4C72"/><polygon points="1037.4,825.35 1030,838.18 1044.8,838.18" fill="#BA4C72"/><polygon points="1092.8,835.61 1085.4,848.44 1100.2,848.44" fill="#BA4C72"/><polygon points="1093.6,845.87 1086.2,858.7 1101,858.7" fill="#BA4C72"/><polygon points="1089.5,856.13 1082.1,868.96 1096.9,868.96" fill="#BA4C72"/><polygon points="1096.3,958.7 1088.9,971.53 1103.7,971.53" fill="#BA4C72"/><polygon points="1072.6,1069.48 1065.2,1082.31 1080,1082.31" fill="#BA4C72"/><polygon points="1065.2,1069.48 1057.8,1082.31 1072.6,1082.31" fill="#BA4C72"/><polygon points="1071.6,1163.85 1064.2,1176.68 1079,1176.68" fill="#BA4C72"/><polygon points="1081.1,1163.85 1073.7,1176.68 1088.5,1176.68" fill="#BA4C72"/></g>
<rect x="952.95" y="743.9" width="259.15" height="448.9" fill="none" stroke="#333333" stroke-width="1.6"/>
<text transform="translate(973.35 1207.8) rotate(-90)" font-size="26.2" text-anchor="end" fill="#4D4D4D">0</text>
<text transform="translate(1019.12 1207.8) rotate(-90)" font-size="26.2" text-anchor="end" fill="#4D4D4D">50</text>
<text transform="translate(1064.9 1207.8) rotate(-90)" font-size="26.2" text-anchor="end" fill="#4D4D4D">100</text>
<text transform="translate(1110.67 1207.8) rotate(-90)" font-size="26.2" text-anchor="end" fill="#4D4D4D">150</text>
<text transform="translate(1156.45 1207.8) rotate(-90)" font-size="26.2" text-anchor="end" fill="#4D4D4D">200</text>
<text transform="translate(1202.22 1207.8) rotate(-90)" font-size="26.2" text-anchor="end" fill="#4D4D4D">250</text>
<path d="M963.95 1193.6V1201.4M973.1 1193.6V1198.4M982.26 1193.6V1198.4M991.41 1193.6V1198.4M1000.57 1193.6V1198.4M1009.72 1193.6V1201.4M1018.88 1193.6V1198.4M1028.03 1193.6V1198.4M1037.19 1193.6V1198.4M1046.35 1193.6V1198.4M1055.5 1193.6V1201.4M1064.65 1193.6V1198.4M1073.81 1193.6V1198.4M1082.96 1193.6V1198.4M1092.12 1193.6V1198.4M1101.27 1193.6V1201.4M1110.43 1193.6V1198.4M1119.59 1193.6V1198.4M1128.74 1193.6V1198.4M1137.89 1193.6V1198.4M1147.05 1193.6V1201.4M1156.2 1193.6V1198.4M1165.36 1193.6V1198.4M1174.51 1193.6V1198.4M1183.67 1193.6V1198.4M1192.82 1193.6V1201.4M1201.98 1193.6V1198.4M1211.13 1193.6V1198.4" stroke="#333333" stroke-width="2.8" fill="none"/>
<rect x="1229.4" y="695.3" width="259.15" height="47.4" fill="#DCDCDC" stroke="#333333" stroke-width="1.6"/>
<text x="1358.97" y="728.7" font-size="25.5" text-anchor="middle" fill="#1A1A1A">HOT275</text>
<rect x="1229.4" y="743.3" width="259.15" height="449.5" fill="#fff"/>
<polyline points="1240.3,764.15 1240.3,772.36 1240.3,780.56 1240.3,792.87 1240.3,803.13 1240.3,813.39 1317.8,823.64 1302.7,833.9 1306.5,844.16 1292.4,854.42 1274.5,864.68 1244.9,967.25 1241.3,1078.03 1241.1,1172.4" fill="none" stroke="#D78054" stroke-width="2.85" stroke-linejoin="round" stroke-linecap="butt"/>
<polyline points="1240.3,764.15 1240.3,772.36 1240.3,780.56 1240.3,792.87 1240.3,803.13 1477.3,813.39 1348.6,823.64 1368.4,833.9 1380.1,844.16 1369.1,854.42 1361.8,864.68 1402.2,967.25 1344.4,1078.03 1355.6,1172.4" fill="none" stroke="#BA4C72" stroke-width="2.85" stroke-linejoin="round" stroke-linecap="butt"/>
<polyline points="1240.3,764.15 1240.3,772.36 1240.3,780.56 1240.3,792.87 1240.3,803.13 1388.2,813.39 1339.8,823.64 1347.1,833.9 1356.4,844.16 1349.3,854.42 1351.1,864.68 1349.7,967.25 1334.9,1078.03 1328.1,1172.4" fill="none" stroke="#390153" stroke-width="2.85" stroke-linejoin="round" stroke-linecap="butt"/>
<g><rect x="1234.8" y="758.65" width="11" height="11" fill="#390153"/><rect x="1234.8" y="766.86" width="11" height="11" fill="#390153"/><rect x="1234.8" y="775.06" width="11" height="11" fill="#390153"/><rect x="1234.8" y="787.37" width="11" height="11" fill="#390153"/><rect x="1234.8" y="797.63" width="11" height="11" fill="#390153"/><rect x="1382.7" y="807.89" width="11" height="11" fill="#390153"/><rect x="1334.3" y="818.14" width="11" height="11" fill="#390153"/><rect x="1341.6" y="828.4" width="11" height="11" fill="#390153"/><rect x="1350.9" y="838.66" width="11" height="11" fill="#390153"/><rect x="1343.8" y="848.92" width="11" height="11" fill="#390153"/><rect x="1345.6" y="859.18" width="11" height="11" fill="#390153"/><rect x="1344.2" y="961.75" width="11" height="11" fill="#390153"/><rect x="1329.4" y="1072.53" width="11" height="11" fill="#390153"/><rect x="1322.6" y="1166.9" width="11" height="11" fill="#390153"/></g>
<g><circle cx="1240.3" cy="764.15" r="5.5" fill="#D78054"/><circle cx="1240.3" cy="772.36" r="5.5" fill="#D78054"/><circle cx="1240.3" cy="780.56" r="5.5" fill="#D78054"/><circle cx="1240.3" cy="792.87" r="5.5" fill="#D78054"/><circle cx="1240.3" cy="803.13" r="5.5" fill="#D78054"/><circle cx="1240.3" cy="813.39" r="5.5" fill="#D78054"/><circle cx="1317.8" cy="823.64" r="5.5" fill="#D78054"/><circle cx="1302.7" cy="833.9" r="5.5" fill="#D78054"/><circle cx="1306.5" cy="844.16" r="5.5" fill="#D78054"/><circle cx="1292.4" cy="854.42" r="5.5" fill="#D78054"/><circle cx="1274.5" cy="864.68" r="5.5" fill="#D78054"/><circle cx="1244.9" cy="967.25" r="5.5" fill="#D78054"/><circle cx="1241.3" cy="1078.03" r="5.5" fill="#D78054"/><circle cx="1241.1" cy="1172.4" r="5.5" fill="#D78054"/></g>
<g><polygon points="1240.3,755.6 1232.9,768.43 1247.7,768.43" fill="#BA4C72"/><polygon points="1240.3,763.81 1232.9,776.64 1247.7,776.64" fill="#BA4C72"/><polygon points="1240.3,772.01 1232.9,784.84 1247.7,784.84" fill="#BA4C72"/><polygon points="1240.3,784.32 1232.9,797.15 1247.7,797.15" fill="#BA4C72"/><polygon points="1240.3,794.58 1232.9,807.41 1247.7,807.41" fill="#BA4C72"/><polygon points="1477.3,804.84 1469.9,817.67 1484.7,817.67" fill="#BA4C72"/><polygon points="1348.6,815.1 1341.2,827.92 1356,827.92" fill="#BA4C72"/><polygon points="1368.4,825.35 1361,838.18 1375.8,838.18" fill="#BA4C72"/><polygon points="1380.1,835.61 1372.7,848.44 1387.5,848.44" fill="#BA4C72"/><polygon points="1369.1,845.87 1361.7,858.7 1376.5,858.7" fill="#BA4C72"/><polygon points="1361.8,856.13 1354.4,868.96 1369.2,868.96" fill="#BA4C72"/><polygon points="1402.2,958.7 1394.8,971.53 1409.6,971.53" fill="#BA4C72"/><polygon points="1344.4,1069.48 1337,1082.31 1351.8,1082.31" fill="#BA4C72"/><polygon points="1355.6,1163.85 1348.2,1176.68 1363,1176.68" fill="#BA4C72"/></g>
<rect x="1229.4" y="743.9" width="259.15" height="448.9" fill="none" stroke="#333333" stroke-width="1.6"/>
<text transform="translate(1249.8 1207.8) rotate(-90)" font-size="26.2" text-anchor="end" fill="#4D4D4D">0</text>
<text transform="translate(1295.58 1207.8) rotate(-90)" font-size="26.2" text-anchor="end" fill="#4D4D4D">50</text>
<text transform="translate(1341.35 1207.8) rotate(-90)" font-size="26.2" text-anchor="end" fill="#4D4D4D">100</text>
<text transform="translate(1387.12 1207.8) rotate(-90)" font-size="26.2" text-anchor="end" fill="#4D4D4D">150</text>
<text transform="translate(1432.9 1207.8) rotate(-90)" font-size="26.2" text-anchor="end" fill="#4D4D4D">200</text>
<text transform="translate(1478.67 1207.8) rotate(-90)" font-size="26.2" text-anchor="end" fill="#4D4D4D">250</text>
<path d="M1240.4 1193.6V1201.4M1249.55 1193.6V1198.4M1258.71 1193.6V1198.4M1267.86 1193.6V1198.4M1277.02 1193.6V1198.4M1286.17 1193.6V1201.4M1295.33 1193.6V1198.4M1304.48 1193.6V1198.4M1313.64 1193.6V1198.4M1322.79 1193.6V1198.4M1331.95 1193.6V1201.4M1341.1 1193.6V1198.4M1350.26 1193.6V1198.4M1359.41 1193.6V1198.4M1368.57 1193.6V1198.4M1377.72 1193.6V1201.4M1386.88 1193.6V1198.4M1396.03 1193.6V1198.4M1405.19 1193.6V1198.4M1414.34 1193.6V1198.4M1423.5 1193.6V1201.4M1432.65 1193.6V1198.4M1441.81 1193.6V1198.4M1450.96 1193.6V1198.4M1460.12 1193.6V1198.4M1469.27 1193.6V1201.4M1478.43 1193.6V1198.4M1487.58 1193.6V1198.4" stroke="#333333" stroke-width="2.8" fill="none"/>
<rect x="1505.85" y="695.3" width="259.15" height="47.4" fill="#DCDCDC" stroke="#333333" stroke-width="1.6"/>
<text x="1635.42" y="728.7" font-size="25.5" text-anchor="middle" fill="#1A1A1A">HOT278</text>
<rect x="1505.85" y="743.3" width="259.15" height="449.5" fill="#fff"/>
<polyline points="1516.7,764.15 1516.7,772.36 1516.7,780.56 1516.7,792.87 1516.7,803.13 1581.6,813.39 1605.5,823.64 1621.7,833.9 1594.2,844.16 1588.9,854.42 1597.1,864.68 1519.8,967.25 1518.3,1078.03" fill="none" stroke="#D78054" stroke-width="2.85" stroke-linejoin="round" stroke-linecap="butt"/>
<polyline points="1516.7,764.15 1516.7,772.36 1516.7,780.56 1516.7,792.87 1516.7,803.13 1642.2,813.39 1672.3,823.64 1649.5,833.9 1664.2,844.16 1649.5,854.42 1656.1,864.68 1656.4,967.25 1617.6,1078.03" fill="none" stroke="#BA4C72" stroke-width="2.85" stroke-linejoin="round" stroke-linecap="butt"/>
<polyline points="1516.7,764.15 1516.7,772.36 1516.7,780.56 1516.7,792.87 1516.7,803.13 1616.5,813.39 1638.2,823.64 1622.4,833.9 1618.3,844.16 1618.3,854.42 1631.2,864.68 1634.8,967.25 1601.3,1078.03" fill="none" stroke="#390153" stroke-width="2.85" stroke-linejoin="round" stroke-linecap="butt"/>
<g><rect x="1511.2" y="758.65" width="11" height="11" fill="#390153"/><rect x="1511.2" y="766.86" width="11" height="11" fill="#390153"/><rect x="1511.2" y="775.06" width="11" height="11" fill="#390153"/><rect x="1511.2" y="787.37" width="11" height="11" fill="#390153"/><rect x="1511.2" y="797.63" width="11" height="11" fill="#390153"/><rect x="1611" y="807.89" width="11" height="11" fill="#390153"/><rect x="1632.7" y="818.14" width="11" height="11" fill="#390153"/><rect x="1616.9" y="828.4" width="11" height="11" fill="#390153"/><rect x="1612.8" y="838.66" width="11" height="11" fill="#390153"/><rect x="1612.8" y="848.92" width="11" height="11" fill="#390153"/><rect x="1625.7" y="859.18" width="11" height="11" fill="#390153"/><rect x="1629.3" y="961.75" width="11" height="11" fill="#390153"/><rect x="1595.8" y="1072.53" width="11" height="11" fill="#390153"/></g>
<g><circle cx="1516.7" cy="764.15" r="5.5" fill="#D78054"/><circle cx="1516.7" cy="772.36" r="5.5" fill="#D78054"/><circle cx="1516.7" cy="780.56" r="5.5" fill="#D78054"/><circle cx="1516.7" cy="792.87" r="5.5" fill="#D78054"/><circle cx="1516.7" cy="803.13" r="5.5" fill="#D78054"/><circle cx="1581.6" cy="813.39" r="5.5" fill="#D78054"/><circle cx="1605.5" cy="823.64" r="5.5" fill="#D78054"/><circle cx="1621.7" cy="833.9" r="5.5" fill="#D78054"/><circle cx="1594.2" cy="844.16" r="5.5" fill="#D78054"/><circle cx="1588.9" cy="854.42" r="5.5" fill="#D78054"/><circle cx="1597.1" cy="864.68" r="5.5" fill="#D78054"/><circle cx="1519.8" cy="967.25" r="5.5" fill="#D78054"/><circle cx="1518.3" cy="1078.03" r="5.5" fill="#D78054"/></g>
<g><polygon points="1516.7,755.6 1509.3,768.43 1524.1,768.43" fill="#BA4C72"/><polygon points="1516.7,763.81 1509.3,776.64 1524.1,776.64" fill="#BA4C72"/><polygon points="1516.7,772.01 1509.3,784.84 1524.1,784.84" fill="#BA4C72"/><polygon points="1516.7,784.32 1509.3,797.15 1524.1,797.15" fill="#BA4C72"/><polygon points="1516.7,794.58 1509.3,807.41 1524.1,807.41" fill="#BA4C72"/><polygon points="1642.2,804.84 1634.8,817.67 1649.6,817.67" fill="#BA4C72"/><polygon points="1672.3,815.1 1664.9,827.92 1679.7,827.92" fill="#BA4C72"/><polygon points="1649.5,825.35 1642.1,838.18 1656.9,838.18" fill="#BA4C72"/><polygon points="1664.2,835.61 1656.8,848.44 1671.6,848.44" fill="#BA4C72"/><polygon points="1649.5,845.87 1642.1,858.7 1656.9,858.7" fill="#BA4C72"/><polygon points="1656.1,856.13 1648.7,868.96 1663.5,868.96" fill="#BA4C72"/><polygon points="1656.4,958.7 1649,971.53 1663.8,971.53" fill="#BA4C72"/><polygon points="1617.6,1069.48 1610.2,1082.31 1625,1082.31" fill="#BA4C72"/></g>
<rect x="1505.85" y="743.9" width="259.15" height="448.9" fill="none" stroke="#333333" stroke-width="1.6"/>
<text transform="translate(1526.25 1207.8) rotate(-90)" font-size="26.2" text-anchor="end" fill="#4D4D4D">0</text>
<text transform="translate(1572.03 1207.8) rotate(-90)" font-size="26.2" text-anchor="end" fill="#4D4D4D">50</text>
<text transform="translate(1617.8 1207.8) rotate(-90)" font-size="26.2" text-anchor="end" fill="#4D4D4D">100</text>
<text transform="translate(1663.58 1207.8) rotate(-90)" font-size="26.2" text-anchor="end" fill="#4D4D4D">150</text>
<text transform="translate(1709.35 1207.8) rotate(-90)" font-size="26.2" text-anchor="end" fill="#4D4D4D">200</text>
<text transform="translate(1755.12 1207.8) rotate(-90)" font-size="26.2" text-anchor="end" fill="#4D4D4D">250</text>
<path d="M1516.85 1193.6V1201.4M1526 1193.6V1198.4M1535.16 1193.6V1198.4M1544.31 1193.6V1198.4M1553.47 1193.6V1198.4M1562.62 1193.6V1201.4M1571.78 1193.6V1198.4M1580.93 1193.6V1198.4M1590.09 1193.6V1198.4M1599.24 1193.6V1198.4M1608.4 1193.6V1201.4M1617.55 1193.6V1198.4M1626.71 1193.6V1198.4M1635.87 1193.6V1198.4M1645.02 1193.6V1198.4M1654.17 1193.6V1201.4M1663.33 1193.6V1198.4M1672.48 1193.6V1198.4M1681.64 1193.6V1198.4M1690.79 1193.6V1198.4M1699.95 1193.6V1201.4M1709.11 1193.6V1198.4M1718.26 1193.6V1198.4M1727.41 1193.6V1198.4M1736.57 1193.6V1198.4M1745.72 1193.6V1201.4M1754.88 1193.6V1198.4M1764.03 1193.6V1198.4" stroke="#333333" stroke-width="2.8" fill="none"/>
<text x="108" y="771.8" font-size="26.2" text-anchor="end" fill="#4D4D4D">0</text>
<text x="108" y="812.83" font-size="26.2" text-anchor="end" fill="#4D4D4D">100</text>
<text x="108" y="853.86" font-size="26.2" text-anchor="end" fill="#4D4D4D">200</text>
<text x="108" y="894.89" font-size="26.2" text-anchor="end" fill="#4D4D4D">300</text>
<text x="108" y="935.92" font-size="26.2" text-anchor="end" fill="#4D4D4D">400</text>
<text x="108" y="976.95" font-size="26.2" text-anchor="end" fill="#4D4D4D">500</text>
<text x="108" y="1017.98" font-size="26.2" text-anchor="end" fill="#4D4D4D">600</text>
<text x="108" y="1059.01" font-size="26.2" text-anchor="end" fill="#4D4D4D">700</text>
<text x="108" y="1100.04" font-size="26.2" text-anchor="end" fill="#4D4D4D">800</text>
<text x="108" y="1141.07" font-size="26.2" text-anchor="end" fill="#4D4D4D">900</text>
<text x="108" y="1182.1" font-size="26.2" text-anchor="end" fill="#4D4D4D">1000</text>
<path d="M122.8 762.1H115M122.8 803.13H115M122.8 844.16H115M122.8 885.19H115M122.8 926.22H115M122.8 967.25H115M122.8 1008.28H115M122.8 1049.31H115M122.8 1090.34H115M122.8 1131.37H115M122.8 1172.4H115M122.8 782.62H117.4M122.8 823.64H117.4M122.8 864.68H117.4M122.8 905.71H117.4M122.8 946.74H117.4M122.8 987.76H117.4M122.8 1028.8H117.4M122.8 1069.83H117.4M122.8 1110.86H117.4M122.8 1151.88H117.4M122.8 1192.91H117.4" stroke="#333333" stroke-width="2.8" fill="none"/>
<text transform="translate(36.1 968.65) rotate(-90)" font-size="31.25" text-anchor="middle" fill="#000">Depth [m]</text>
<text x="928.7" y="1280.2" font-size="31.25" text-anchor="middle" fill="#000">Abundance in % Nitrospina</text>
<text x="24.3" y="662.1" font-size="29" fill="#000">B</text>
</svg>
</body>
</html>
